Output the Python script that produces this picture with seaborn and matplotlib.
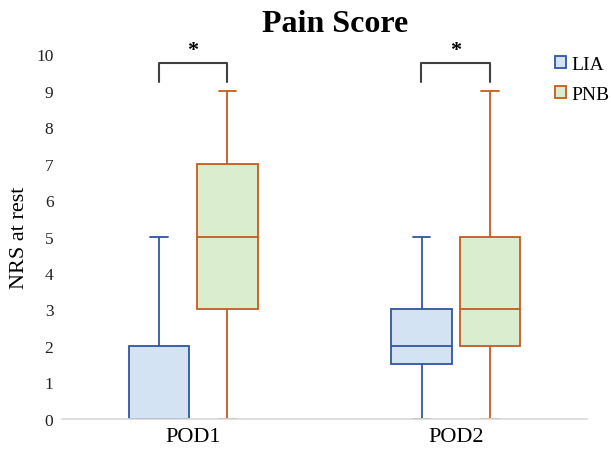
import pandas as pd
import numpy as np
import matplotlib.pyplot as plt
import matplotlib.colors as mcolors
import seaborn as sns
from matplotlib.patches import Patch

# Values (min, Q1, median, Q3, max) per group and day
days = ['POD1', 'POD2']
groups = ['LIA', 'PNB']
lia_pod1 = [0, 0, 0, 2, 5]
pnb_pod1 = [0, 3, 5, 7, 9]
lia_pod2 = [0, 1.5, 2, 3, 5]
pnb_pod2 = [0, 2, 3, 5, 9]

fill_colors = {'LIA': '#D4E3F3', 'PNB': '#DAEDCF'}
edge_colors = {'LIA': '#2F55A4', 'PNB': '#C65A1E'}

rows = []
for day, grp, vals in [('POD1', 'LIA', lia_pod1), ('POD1', 'PNB', pnb_pod1),
                       ('POD2', 'LIA', lia_pod2), ('POD2', 'PNB', pnb_pod2)]:
    for v in vals:
        rows.append({'Day': day, 'Group': grp, 'NRS': v})
df = pd.DataFrame(rows)

sns.set_style('white')
plt.rcParams['font.family'] = ['Liberation Serif', 'DejaVu Serif']

fig = plt.figure(figsize=(6.11, 4.52), dpi=100)
ax = fig.add_axes([0.101, 0.071, 0.86, 0.807])

sns.boxplot(data=df, x='Day', y='NRS', hue='Group', hue_order=groups,
            order=days, palette=fill_colors, saturation=1, linewidth=1.3,
            whis=(0, 100), width=0.52, gap=0.11, legend=False, ax=ax)

# Recolour outlines per group and make the caps short like in the original
cap_half = 0.033
for cont in ax.containers:
    fc = mcolors.to_hex(cont.boxes[0].get_facecolor())
    grp = min(groups, key=lambda g: np.sum(np.abs(np.array(mcolors.to_rgb(fill_colors[g]))
                                                  - np.array(mcolors.to_rgb(fc)))))
    ec = edge_colors[grp]
    for b in cont.boxes:
        b.set_edgecolor(ec)
    for ln in list(cont.whiskers) + list(cont.medians):
        ln.set_color(ec)
    for ln in cont.caps:
        ln.set_color(ec)
        xm = np.mean(ln.get_xdata())
        ln.set_xdata([xm - cap_half, xm + cap_half])

ax.set_ylim(0, 10)
ax.set_xlim(-0.5, 1.5)
ax.set_yticks(range(0, 11))
ax.tick_params(axis='y', labelsize=12.5, length=0, pad=6, labelcolor='#222222')
ax.tick_params(axis='x', labelsize=16, length=0, pad=6, labelcolor='black')
ax.set_xlabel('')
ax.set_ylabel('NRS at rest', fontsize=16, labelpad=5, color='black')
for s in ['top', 'right', 'left']:
    ax.spines[s].set_visible(False)
ax.spines['bottom'].set_color('#D9D9D9')
ax.spines['bottom'].set_linewidth(1.2)

# Significance brackets
off = 0.131
for i in range(len(days)):
    x1, x2 = i - off, i + off
    ax.plot([x1, x1, x2, x2], [9.23, 9.75, 9.75, 9.23], color='#404040',
            lw=1.5, clip_on=False)
    ax.text(i, 9.85, '*', ha='center', va='bottom', fontsize=16,
            fontweight='bold', color='black', clip_on=False)

fig.text(0.548, 0.945, 'Pain Score', ha='center', va='center',
         fontsize=23, fontweight='bold', color='black')

handles = [Patch(facecolor=fill_colors[g], edgecolor=edge_colors[g], lw=1.3)
           for g in groups]
fig.legend(handles, groups, loc='upper left', bbox_to_anchor=(0.893, 0.895),
           frameon=False, fontsize=14, handlelength=0.55, handleheight=0.55,
           handletextpad=0.25, labelspacing=0.65, borderpad=0,
           labelcolor='black')

plt.savefig('out.png', dpi=100)
